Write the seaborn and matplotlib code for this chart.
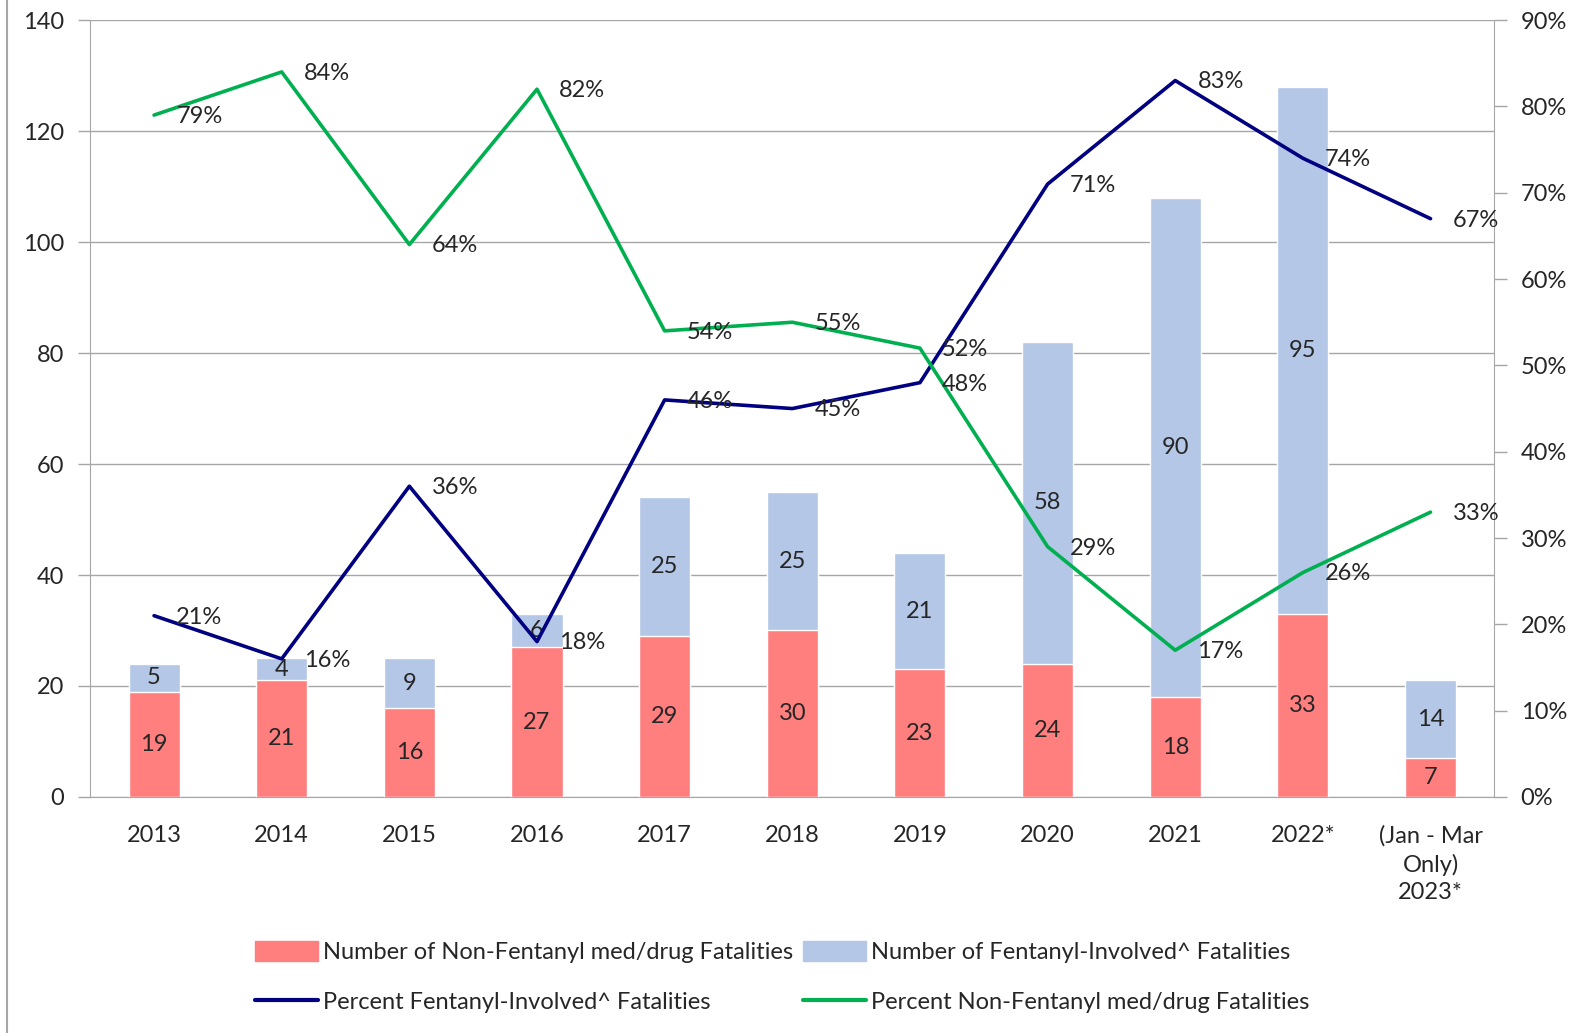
import numpy as np
import pandas as pd
import matplotlib
matplotlib.use("Agg")
import matplotlib.pyplot as plt
import seaborn as sns
from matplotlib.lines import Line2D
from matplotlib.patches import Patch
from matplotlib.ticker import FixedLocator, PercentFormatter

# datos
years = ["2013", "2014", "2015", "2016", "2017", "2018", "2019", "2020",
         "2021", "2022*", "(Jan - Mar\nOnly)\n2023*"]
non_fent = [19, 21, 16, 27, 29, 30, 23, 24, 18, 33, 7]
fent = [5, 4, 9, 6, 25, 25, 21, 58, 90, 95, 14]
pct_fent = [21, 16, 36, 18, 46, 45, 48, 71, 83, 74, 67]
pct_non = [79, 84, 64, 82, 54, 55, 52, 29, 17, 26, 33]

RED = "#FF7F7F"
BLUE = "#B4C7E7"
NAVY = "#000080"
GREEN = "#00B050"
GRAY = "#A6A6A6"
FS = 17

df = pd.DataFrame({"year": years, "non": non_fent, "fent": fent,
                   "pf": pct_fent, "pn": pct_non})
df["total"] = df["non"] + df["fent"]
df["pos"] = np.arange(len(df))

sns.set_style("white")
plt.rcParams["font.family"] = ["Lato", "DejaVu Sans"]
plt.rcParams["font.size"] = FS

fig = plt.figure(figsize=(15.83, 10.33), dpi=100)
ax = fig.add_axes([0.057, 0.2285, 0.887, 0.752])

# barras apiladas: total en azul, no-fentanilo encima en rojo
sns.barplot(data=df, x="year", y="total", color=BLUE, width=0.4,
            saturation=1, ax=ax, zorder=2)
sns.barplot(data=df, x="year", y="non", color=RED, width=0.4,
            saturation=1, ax=ax, zorder=3)

for i, r in df.iterrows():
    ax.text(i, r["non"] / 2, str(r["non"]), ha="center", va="center",
            fontsize=FS, zorder=5)
    ax.text(i, r["non"] + r["fent"] / 2, str(r["fent"]), ha="center",
            va="center", fontsize=FS, zorder=5)

ax.set_ylim(0, 140)
ax.set_yticks(range(0, 141, 20))
ax.set_xlim(-0.5, len(df) - 0.5)
ax.set_xlabel("")
ax.set_ylabel("")
ax.grid(axis="y", color=GRAY, linewidth=1)
ax.set_axisbelow(True)

# ticks del eje x en los bordes de categoria, etiquetas al centro
ax.xaxis.set_major_locator(FixedLocator(np.arange(-0.5, len(df), 1)))
ax.xaxis.set_major_formatter(plt.NullFormatter())
ax.xaxis.set_minor_locator(FixedLocator(df["pos"]))
ax.set_xticklabels(years, minor=True, linespacing=1.4)
ax.tick_params(axis="x", which="major", length=8, color=GRAY, width=1)
ax.tick_params(axis="x", which="minor", length=0, pad=20, labelsize=FS)
ax.tick_params(axis="y", length=9, color=GRAY, width=1, pad=10, labelsize=FS)
ax.tick_params(axis="y", left=True)
for s in ["left", "bottom", "right"]:
    ax.spines[s].set_color(GRAY)
ax.spines["top"].set_visible(False)

# lineas de porcentaje en eje secundario
ax2 = ax.twinx()
sns.lineplot(x=df["pos"], y=df["pf"], color=NAVY, linewidth=2.6, ax=ax2)
sns.lineplot(x=df["pos"], y=df["pn"], color=GREEN, linewidth=2.6, ax=ax2)
ax2.set_ylim(0, 90)
ax2.set_yticks(range(0, 91, 10))
ax2.yaxis.set_major_formatter(PercentFormatter(decimals=0))
ax2.set_ylabel("")
ax2.tick_params(axis="y", right=True, length=9, color=GRAY, width=1,
                pad=10, labelsize=FS)
for s in ["left", "bottom", "right", "top"]:
    ax2.spines[s].set_visible(False)
ax2.set_xlim(-0.5, len(df) - 0.5)

for i, r in df.iterrows():
    for col in ["pf", "pn"]:
        ax2.annotate(f"{r[col]}%", (r["pos"], r[col]), xytext=(16, -1),
                     textcoords="offset points", ha="left", va="center",
                     fontsize=FS, zorder=6)

# leyenda
handles = [Patch(color=RED), Line2D([], [], color=NAVY, linewidth=3),
           Patch(color=BLUE), Line2D([], [], color=GREEN, linewidth=3)]
labels = ["Number of Non-Fentanyl med/drug Fatalities",
          "Percent Fentanyl-Involved^ Fatalities",
          "Number of Fentanyl-Involved^ Fatalities",
          "Percent Non-Fentanyl med/drug Fatalities"]
fig.legend(handles, labels, ncol=2, loc="center", bbox_to_anchor=(0.494, 0.054),
           frameon=False, fontsize=FS, handlelength=2.7, handleheight=0.9,
           handletextpad=0.2, columnspacing=0.4, labelspacing=1.2)

# borde izquierdo
fig.add_artist(Line2D([0.0045, 0.0045], [0, 1], transform=fig.transFigure,
                      color=GRAY, linewidth=1.5))

fig.savefig("out.png", dpi=100)
